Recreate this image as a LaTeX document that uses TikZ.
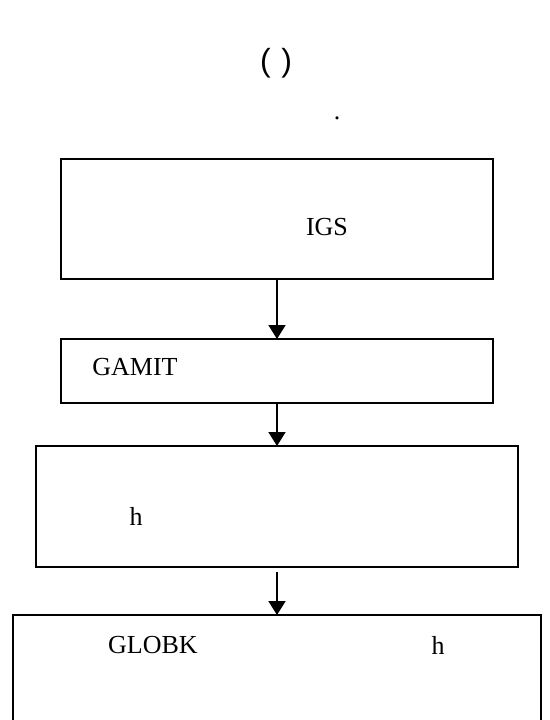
\documentclass[tikz,border=0pt]{standalone}
\usepackage{fontspec}
\setmainfont{Liberation Serif}
\newfontfamily\parenfont{Liberation Sans}
\usetikzlibrary{arrows.meta}
\usetikzlibrary{positioning}

\begin{document}
\begin{tikzpicture}[x=1pt,y=-1pt] % processing flow
		\newcommand{\boxLine}{1.8pt}
		\newcommand{\headLength}{14pt}
		\newcommand{\headWidth}{17pt}
		
		\tikzset{
			stage/.style={draw, line width=\boxLine, inner sep=0pt, outer sep=0pt},
			flow/.style={-{Triangle[length=\headLength,width=\headWidth]}, line width=\boxLine},
			label/.style={font=\fontsize{26}{30}\selectfont, inner sep=0pt}
		}
		
		\useasboundingbox (0,0) rectangle (549,720);		% page
		\clip (0,0) rectangle (549,720);
		
		% heading
		\node[label, font=\parenfont\fontsize{32}{36}\selectfont] (paren) at (276,63) {(\,\,)};
		\node[label] (dot) at (337,118) {.};
		
		% boxes
		\node[stage, minimum width=432pt, minimum height=120pt] (igs) at (277,219) {};
		\node[stage, minimum width=432pt, minimum height=64pt] (gamit) at (277,371) {};
		\node[stage, minimum width=482pt, minimum height=121pt] (solve) at (277,506.5) {};
		\node[stage, minimum width=528pt, minimum height=150pt] (globk) at (277,690) {};
		
		% box texts
		\node[label] (igsText) at (327,227) {IGS};
		\node[label] (gamitText) at (135,367) {GAMIT};
		\node[label] (solveText) at (136,516) {h};
		\node[label] (globkText) at (153,645) {GLOBK};
		\node[label] (globkH) at (438,645) {h};
		
		% arrows
		\draw[flow] (igs.south) -- (gamit.north);
		\draw[flow] (gamit.south) -- (solve.north);
		\draw[flow, shorten <=5pt] (solve.south) -- (globk.north);
\end{tikzpicture}
\end{document}
